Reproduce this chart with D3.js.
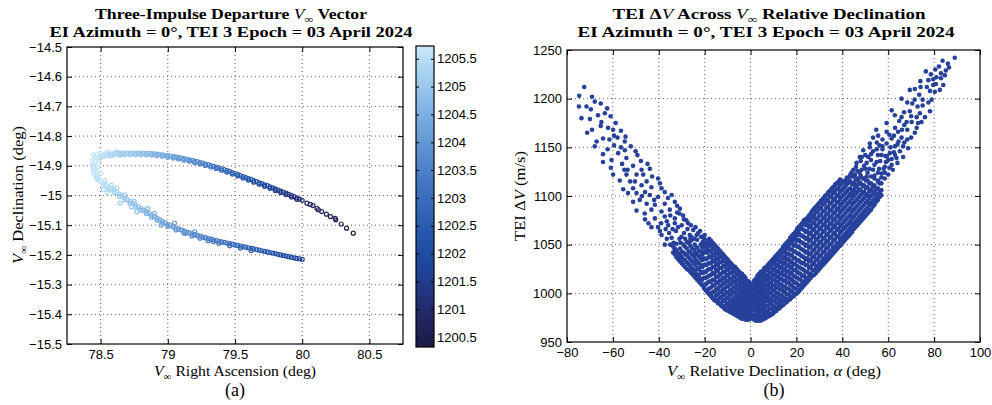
<!DOCTYPE html>
<html><head><meta charset="utf-8">
<script src="https://cdn.jsdelivr.net/npm/d3@7"></script>
<style>
body{margin:0;background:#fff}
text{fill:#000}
.tk{font-family:"Liberation Sans",Arial,sans-serif;font-size:13px}
.sf{font-family:"Liberation Serif","Times New Roman",serif}
</style></head><body>
<svg id="c" width="992" height="405" xmlns="http://www.w3.org/2000/svg"></svg>
<script>
// ---------------- Panel (a) data: [RA deg, Dec deg, dV m/s] ----------------
const raTicks = [78.5, 79, 79.5, 80, 80.5];
const decTicks = [-15.5, -15.4, -15.3, -15.2, -15.1, -15, -14.9, -14.8, -14.7, -14.6, -14.5];
const cbTicks = [1200.5, 1201, 1201.5, 1202, 1202.5, 1203, 1203.5, 1204, 1204.5, 1205, 1205.5];
const cbStopVals = [1200.32, 1200.8, 1201.3, 1201.8, 1202.3, 1202.8, 1203.3, 1203.8, 1204.3, 1204.8, 1205.3, 1205.73];
const cbStopCols = ["#1b1a46", "#22265e", "#24347f", "#1e479d", "#2356aa", "#3366b6", "#4478c2", "#5a8ecf", "#71a5dc", "#8dbde8", "#aad5f2", "#c8e9f9"];

const upperBranch = [
[78.46,-14.884,1205.6],[78.48,-14.874,1205.6],[78.50,-14.868,1205.5],[78.52,-14.865,1205.5],[78.54,-14.863,1205.4],
[78.56,-14.861,1205.4],[78.58,-14.860,1205.3],[78.60,-14.859,1205.3],[78.62,-14.858,1205.3],[78.64,-14.858,1205.2],
[78.66,-14.857,1205.2],[78.68,-14.857,1205.1],[78.70,-14.857,1205.1],[78.72,-14.857,1205.1],[78.74,-14.857,1205.0],
[78.76,-14.857,1205.0],[78.78,-14.857,1204.9],[78.80,-14.857,1204.9],[78.82,-14.858,1204.8],[78.84,-14.858,1204.8],
[78.86,-14.859,1204.7],[78.88,-14.859,1204.7],[78.90,-14.860,1204.6],[78.92,-14.861,1204.5],[78.94,-14.862,1204.5],
[78.96,-14.863,1204.4],[78.98,-14.865,1204.4],[79.00,-14.866,1204.3],[79.02,-14.867,1204.2],[79.04,-14.869,1204.2],
[79.06,-14.870,1204.1],[79.08,-14.872,1204.1],[79.10,-14.874,1204.0],[79.12,-14.876,1203.9],[79.14,-14.878,1203.9],
[79.16,-14.880,1203.8],[79.18,-14.882,1203.7],[79.20,-14.884,1203.7],[79.22,-14.886,1203.6],[79.24,-14.889,1203.5],
[79.26,-14.891,1203.5],[79.28,-14.894,1203.4],[79.30,-14.896,1203.3],[79.32,-14.899,1203.3],[79.34,-14.902,1203.2],
[79.36,-14.904,1203.1],[79.38,-14.907,1203.1],[79.40,-14.910,1203.0],[79.42,-14.913,1202.9],[79.44,-14.916,1202.8],
[79.46,-14.919,1202.8],[79.48,-14.923,1202.7],[79.50,-14.926,1202.6],[79.52,-14.929,1202.6],[79.54,-14.933,1202.5],
[79.56,-14.936,1202.4],[79.58,-14.940,1202.4],[79.60,-14.943,1202.3],[79.62,-14.946,1202.2],[79.64,-14.950,1202.2],
[79.66,-14.953,1202.1],[79.68,-14.957,1202.1],[79.70,-14.960,1202.0],[79.72,-14.964,1201.9],[79.74,-14.967,1201.9],
[79.76,-14.971,1201.8],[79.78,-14.974,1201.7],[79.80,-14.978,1201.7],[79.82,-14.982,1201.6],[79.84,-14.985,1201.5],
[79.86,-14.989,1201.5],[79.88,-14.992,1201.4],[79.90,-14.996,1201.4],[79.92,-15.000,1201.3],[79.94,-15.004,1201.2],
[79.96,-15.008,1201.2],[79.98,-15.012,1201.1],[80.00,-15.016,1201.1]
];
const upperInner = [
[78.52,-14.870,1205.5],[78.56,-14.866,1205.4],[78.60,-14.864,1205.3],[78.64,-14.863,1205.2],[78.68,-14.862,1205.1],
[78.72,-14.862,1205.0],[78.76,-14.862,1204.9],[78.80,-14.862,1204.8],[78.84,-14.863,1204.7],[78.88,-14.864,1204.6],
[78.92,-14.866,1204.5],[78.96,-14.868,1204.4],[79.00,-14.871,1204.2],[79.04,-14.874,1204.1],[79.08,-14.877,1204.0],
[79.12,-14.881,1203.9],[79.16,-14.885,1203.7],[79.20,-14.889,1203.6],[79.24,-14.894,1203.5],[79.28,-14.899,1203.3],
[79.32,-14.904,1203.2],[79.36,-14.909,1203.0],[79.40,-14.915,1202.9],[79.44,-14.921,1202.8],[79.48,-14.928,1202.6],
[79.52,-14.934,1202.5],[79.56,-14.941,1202.3],[79.60,-14.948,1202.2],[79.64,-14.955,1202.1],[79.68,-14.962,1202.0],
[79.72,-14.969,1201.8],[79.76,-14.976,1201.7],[79.80,-14.983,1201.6],[79.84,-14.990,1201.4],[79.88,-14.997,1201.3],
[79.92,-15.005,1201.2],[79.96,-15.013,1201.1]
];
const upperTail = [
[80.035,-15.026,1200.9],[80.06,-15.030,1200.9],[80.08,-15.034,1200.8],[80.11,-15.043,1200.8],[80.12,-15.048,1200.8],
[80.145,-15.054,1200.7],[80.18,-15.063,1200.7],[80.21,-15.071,1200.6],[80.245,-15.077,1200.6],[80.25,-15.082,1200.6],
[80.29,-15.096,1200.5],[80.33,-15.110,1200.5],[80.38,-15.127,1200.4]
];
const lowerBranch = [
[78.44,-14.900,1205.7],[78.445,-14.912,1205.6],[78.45,-14.922,1205.6],[78.46,-14.932,1205.6],[78.47,-14.940,1205.5],
[78.48,-14.946,1205.5],[78.50,-14.953,1205.5],[78.52,-14.960,1205.4],[78.54,-14.966,1205.4],[78.56,-14.972,1205.3],
[78.58,-14.977,1205.3],[78.60,-14.982,1205.2],[78.62,-14.989,1205.2],[78.64,-14.995,1205.1],[78.66,-15.001,1205.1],
[78.68,-15.008,1205.0],[78.70,-15.014,1205.0],[78.72,-15.020,1204.9],[78.74,-15.026,1204.9],[78.76,-15.032,1204.8],
[78.78,-15.037,1204.8],[78.80,-15.043,1204.7],[78.82,-15.049,1204.6],[78.84,-15.054,1204.6],[78.86,-15.060,1204.5],
[78.88,-15.066,1204.5],[78.90,-15.071,1204.4],[78.92,-15.076,1204.4],[78.94,-15.082,1204.3],[78.96,-15.087,1204.3],
[78.98,-15.092,1204.2],[79.00,-15.097,1204.1],[79.02,-15.101,1204.1],[79.04,-15.105,1204.0],[79.06,-15.109,1204.0],
[79.08,-15.113,1203.9],[79.10,-15.116,1203.9],[79.12,-15.119,1203.8],[79.14,-15.123,1203.8],[79.16,-15.126,1203.7],
[79.18,-15.129,1203.7],[79.20,-15.132,1203.6],[79.22,-15.135,1203.6],[79.24,-15.137,1203.5],[79.26,-15.140,1203.5],
[79.28,-15.142,1203.4],[79.30,-15.145,1203.4],[79.32,-15.147,1203.3],[79.34,-15.149,1203.3],[79.36,-15.152,1203.2],
[79.38,-15.154,1203.2],[79.40,-15.156,1203.1],[79.42,-15.158,1203.1],[79.44,-15.160,1203.0],[79.46,-15.162,1203.0],
[79.48,-15.164,1202.9],[79.50,-15.166,1202.9],[79.52,-15.168,1202.8],[79.54,-15.170,1202.8],[79.56,-15.172,1202.7],
[79.58,-15.174,1202.7],[79.60,-15.176,1202.6],[79.62,-15.178,1202.6],[79.64,-15.180,1202.5],[79.66,-15.182,1202.5],
[79.68,-15.184,1202.4],[79.70,-15.186,1202.4],[79.72,-15.188,1202.3],[79.74,-15.190,1202.3],[79.76,-15.192,1202.2],
[79.78,-15.194,1202.2],[79.80,-15.196,1202.1],[79.82,-15.198,1202.1],[79.84,-15.200,1202.0],[79.86,-15.202,1202.0],
[79.88,-15.204,1201.9],[79.90,-15.206,1201.9],[79.92,-15.208,1201.8],[79.94,-15.210,1201.8],[79.96,-15.212,1201.7],
[79.98,-15.213,1201.7],[80.00,-15.215,1201.6]
];
const lowerOuter = [
[78.52,-14.968,1205.5],[78.56,-14.980,1205.4],[78.60,-14.990,1205.3],[78.64,-15.003,1205.2],[78.68,-15.015,1205.1],
[78.72,-15.027,1205.0],[78.76,-15.039,1204.9],[78.80,-15.050,1204.8],[78.84,-15.061,1204.7],[78.88,-15.073,1204.6],
[78.92,-15.083,1204.5],[78.96,-15.094,1204.4],[79.00,-15.104,1204.2],[79.06,-15.116,1204.1],[79.12,-15.126,1203.9],
[79.18,-15.136,1203.8],[79.24,-15.144,1203.6],[79.30,-15.152,1203.5],[79.38,-15.161,1203.3],[79.46,-15.169,1203.1],
[79.54,-15.177,1202.9],[79.62,-15.185,1202.7]
];
const tipScatter = [
[78.446,-14.864,1205.6],[78.47,-14.862,1205.6],[78.50,-14.858,1205.5],[78.434,-14.897,1205.7],[78.44,-14.880,1205.7],
[78.45,-14.905,1205.7],[78.47,-14.925,1205.6],[78.48,-14.940,1205.6],[78.46,-14.915,1205.7],[78.52,-14.980,1205.5],
[78.55,-14.990,1205.4],[78.645,-15.026,1205.2],[78.73,-15.038,1205.0],[78.77,-15.055,1204.9],[78.95,-15.100,1204.4],
[79.13,-15.128,1204.0],[79.34,-15.155,1203.4],[78.49,-14.880,1205.6],[78.46,-14.900,1205.7],[78.48,-14.905,1205.6],
[78.50,-14.925,1205.6],[78.53,-14.950,1205.5],[78.58,-14.965,1205.4],[78.62,-14.975,1205.3],[78.68,-14.998,1205.1],
[78.75,-15.020,1205.0],[78.85,-15.044,1204.7],[78.90,-15.060,1204.6],[79.05,-15.093,1204.2],[79.20,-15.122,1203.8],
[78.55,-14.855,1205.4],[78.62,-14.853,1205.3],[78.58,-14.866,1205.4],[78.65,-14.864,1205.2]
];

// ---------------- Panel (b) data: [alpha deg, TEI dV m/s] ----------------
const alphaTicks = [-80, -60, -40, -20, 0, 20, 40, 60, 80, 100];
const dvTicks = [950, 1000, 1050, 1100, 1150, 1200, 1250];
const leftArmSparse = [
[-72.5,1212],[-74.7,1203],[-69.1,1202],[-67.9,1197],[-65.3,1195],[-74.8,1192],[-69.6,1189],[-73.7,1180],[-70.0,1179],
[-63.5,1185],[-61.0,1182],[-65.0,1176],[-65.3,1172],[-58.8,1175],[-62.1,1170],[-59.9,1168],[-69.1,1168],[-71.2,1165],
[-56.5,1167],[-64.3,1159],[-59.5,1162],[-58.0,1160],[-54.5,1161],[-67.1,1156],[-67.9,1151],[-62.3,1148],[-59.5,1152],
[-54.8,1156],[-52.2,1151],[-64.3,1143],[-57.7,1144],[-54.8,1147],[-50.1,1146],[-49.3,1142],[-54.1,1139],[-64.3,1135],
[-60.6,1137],[-56.0,1133],[-51.2,1131],[-47.8,1136],[-44.9,1133],[-60.9,1129],[-53.6,1127],[-47.5,1127],[-43.9,1128],
[-59.9,1122],[-54.1,1122],[-49.7,1122],[-46.8,1122],[-42.9,1120],[-40.3,1118],[-57.0,1116],[-50.4,1115],[-45.3,1115],
[-39.5,1113],[-55.5,1107],[-51.2,1108],[-47.5,1111],[-43.2,1109],[-38.8,1108],[-37.4,1104],[-53.4,1103],[-49.7,1103],
[-47.3,1100],[-43.9,1101],[-40.3,1099],[-34.4,1101],[-51.2,1094],[-48.3,1096],[-45.3,1092],[-41.7,1091],[-37.4,1092],
[-33.0,1094],[-49.7,1085],[-46.1,1082],[-43.2,1086],[-38.8,1084],[-35.2,1086],[-30.8,1087],[-41.7,1077],[-37.4,1079],
[-33.0,1077],[-29.4,1080],[-43.2,1068],[-40.3,1068],[-35.9,1070],[-31.6,1068],[-27.2,1072],[-25.0,1065],[-38.8,1060],
[-34.4,1057],[-30.1,1058],[-26.5,1060],[-22.8,1062],[-37.4,1050],[-33.0,1046],[-28.6,1048],[-24.3,1050],[-20.7,1053],
[-19.2,1046],[-46.0,1076],[-44.5,1072],[-36.5,1074],[-32.0,1083],[-28.0,1075],[-24.0,1068],[-21.5,1058],[-26.0,1054],
[-30.5,1052],[-35.5,1062],[-39.5,1064],[-42.0,1096],[-36.0,1098],[-32.0,1090],[-55.0,1127],[-46.0,1104],[-52.5,1115],
[-61.5,1158],[-56.5,1150],[-66.5,1183],[-71.5,1192],[-62.5,1190]
];
const leftArmMid = [
[-33.5,1052],[-31,1056],[-29,1062],[-27.5,1066],[-25.8,1058],[-23.5,1060],[-22,1064],[-20,1060],[-18.5,1055],
[-32.5,1064],[-30,1070],[-28.5,1056],[-35,1050],[-36.5,1056],[-34,1066],[-27,1052],[-24.5,1056],[-21,1058],[-19.5,1052],
[-37,1066],[-33,1072],[-29,1076],[-26,1070],[-39,1072],[-35,1080],[-31,1082]
];
const rightArmSparse = [
[89.0,1242],[83.7,1239],[82.1,1233],[85.1,1229],[76.4,1228],[78.6,1225],[84.7,1224],[79.6,1220],[79.6,1214],[84.0,1214],
[74.1,1212],[69.4,1209],[71.6,1210],[78.2,1208],[80.3,1207],[82.5,1209],[65.8,1200],[73.5,1204],[78.9,1199],[68.3,1196],
[75.0,1199],[75.0,1193],[61.5,1188],[69.4,1187],[78.2,1187],[62.9,1183],[73.8,1185],[65.8,1181],[72.4,1181],[76.0,1181],
[59.3,1175],[64.8,1177],[70.2,1176],[74.5,1176],[72.4,1170],[54.8,1168],[59.3,1166],[64.3,1166],[68.3,1168],[71.6,1165],
[53.4,1160],[55.6,1162],[61.5,1159],[65.8,1160],[68.3,1158],[52.0,1154],[56.2,1152],[59.3,1154],[62.9,1151],[66.5,1151],
[68.7,1149],[49.1,1147],[53.4,1146],[57.1,1142],[60.7,1144],[65.1,1146],[47.6,1140],[51.3,1140],[60.0,1137],[63.6,1139],
[46.2,1134],[50.6,1134],[54.9,1135],[58.5,1130],[61.5,1132],[44.8,1127],[48.4,1127],[53.4,1127],[57.1,1123],[60.0,1122],
[43.3,1120],[46.9,1118],[50.6,1120],[55.6,1116],[41.8,1113],[45.5,1111],[49.1,1110],[53.4,1110],[56.2,1113],
[63.0,1170],[57.5,1158],[67.0,1173],[70.5,1195],[76.8,1212],[81.0,1222],[86.0,1236],[72.8,1192],[66.9,1186],[60.5,1163],
[55.0,1148],[51.8,1128],[47.5,1124],[58.8,1141],[62.5,1145],[70.0,1160],[73.0,1175],[77.5,1196],[80.8,1215],[83.0,1226],
[42.5,1118],[44.0,1124],[46.0,1130],[48.0,1136],[50.0,1142],[52.0,1150],[45.5,1122],[49.5,1131],[52.5,1137],[55.5,1142],
[57.5,1148],[56.0,1128],[59.0,1135],[54.0,1121],[51.0,1116],[47.5,1113],[58.5,1118],[62.0,1127],[64.0,1134],[66.5,1140],
[62.5,1162],[64.0,1153],[66.0,1168],[70.0,1182],[68.0,1176],[71.5,1199],[74.0,1218],[77.5,1219],[80.5,1230],[83.0,1221],
[86.5,1232]
];
const rightArmMid = [
[40.5,1115],[42,1112],[42,1119],[43.5,1115],[43.5,1122],[45,1113],[45,1120],[46.5,1111],[46.5,1118],[46.5,1126],
[48,1113],[48,1121],[49.5,1111],[49.5,1118],[51,1109],[51,1124],[52.5,1113],[52.5,1120],[54,1111],[54,1118],
[55.5,1115],[55.5,1124],[57,1113],[57,1119],[58.5,1124],[58,1128],[60.5,1129],[59.5,1141],[61.5,1138],[63,1142],
[56.5,1136],[54,1132],[50,1128],[48.5,1140],[52.5,1143],[55,1155],[57.5,1151],[61,1150],[64.5,1156],[67,1155]
];
const rightArmEdge = [
[1.0,1008],[2.5,1012],[4,1017],[5.5,1021],[7,1025],[8.5,1030],[10,1034],[11.5,1038],[13,1043],[14.5,1047],[16,1052],
[17.5,1056],[19,1061],[20.5,1065],[22,1070],[23.5,1074],[25,1078],[26.5,1083],[28,1087],[29.5,1091],[31,1095],[32.5,1100],
[34,1104],[35.5,1108],[37,1112],[38.5,1115]
];
// dense columns: [alpha, [dV values...]]
const denseCols = [
[-33,[1040,1045]],[-31.5,[1035,1041]],[-30,[1031,1037,1043]],[-28.5,[1027,1034,1040]],[-27,[1024,1030,1037,1043]],
[-25.5,[1020,1026,1033,1040,1046]],[-24,[1016,1022,1029,1035,1042]],[-22.5,[1012,1018,1025,1031,1038,1044]],
[-21,[1008,1014,1021,1027,1034,1040,1047,1052]],[-19.5,[1003,1009,1016,1022,1029,1035,1042]],
[-18,[999,1005,1012,1018,1025,1031,1038,1044,1050,1056]],[-16.5,[995,1001,1008,1014,1021,1027,1034,1040,1046,1052]],
[-15,[992,998,1004,1011,1017,1024,1030,1036,1042,1048]],[-13.5,[989,995,1001,1007,1013,1019,1026,1032,1038,1044]],
[-12,[986,992,998,1004,1010,1016,1022,1028,1034,1040]],[-10.5,[983,989,995,1001,1007,1013,1019,1025,1031,1036]],
[-9,[981,986,992,998,1003,1009,1015,1021,1027,1032]],[-7.5,[979,984,990,995,1001,1006,1012,1017,1023,1028]],
[-6,[977,982,988,993,998,1004,1009,1014,1020,1025]],[-4.5,[975,980,985,991,996,1001,1006,1011,1016,1021]],
[-3,[974,979,984,989,994,999,1004,1009,1014,1018]],[-1.5,[973,978,983,988,993,998,1003,1008,1013]],
[0,[975,980,985,990,995,1000,1005,1010]],[1.5,[973,978,984,989,994,999,1004,1009,1013]],
[3,[972,977,982,987,993,998,1003,1008,1013,1018]],[4.5,[972,977,983,988,993,999,1004,1009,1014,1018,1022]],
[6,[974,979,984,990,995,1000,1005,1011,1016,1021,1026]],[7.5,[976,981,987,992,997,1003,1008,1013,1018,1024,1029]],
[9,[978,984,989,994,1000,1005,1011,1016,1021,1027,1033]],[10.5,[981,986,992,997,1003,1008,1014,1019,1025,1031,1037]],
[12,[984,989,995,1000,1006,1012,1017,1023,1029,1035,1041]],[13.5,[987,992,998,1004,1009,1015,1021,1027,1033,1039,1045]],
[15,[990,995,1001,1007,1013,1019,1025,1031,1037,1043,1050]],[16.5,[993,999,1005,1011,1017,1023,1029,1035,1041,1048,1054]],
[18,[996,1002,1008,1014,1020,1026,1032,1039,1045,1052,1059]],[19.5,[999,1005,1011,1017,1024,1030,1036,1043,1050,1057,1063]],
[21,[1002,1008,1015,1021,1027,1034,1041,1048,1055,1062,1068]],[22.5,[1006,1012,1018,1025,1031,1038,1045,1052,1059,1066,1072]],
[24,[1010,1016,1022,1029,1035,1042,1049,1056,1063,1070,1076]],[25.5,[1014,1020,1026,1033,1040,1047,1054,1061,1068,1074,1080]],
[27,[1018,1024,1030,1037,1044,1051,1058,1065,1072,1078,1085]],[28.5,[1021,1027,1034,1041,1048,1055,1062,1069,1076,1083,1089]],
[30,[1025,1031,1038,1045,1052,1059,1066,1073,1080,1087,1093]],[31.5,[1029,1035,1042,1049,1056,1063,1070,1077,1084,1091,1097]],
[33,[1033,1039,1046,1053,1060,1067,1074,1081,1088,1095,1101]],[34.5,[1037,1043,1050,1057,1064,1071,1078,1085,1092,1099,1105]],
[36,[1041,1047,1054,1061,1068,1075,1082,1089,1096,1103,1109]],[37.5,[1045,1051,1058,1065,1072,1079,1086,1093,1100,1107,1113]],
[39,[1049,1055,1062,1069,1076,1083,1090,1097,1104,1111,1117]],[40.5,[1053,1059,1066,1073,1080,1087,1094,1101,1108]],
[42,[1057,1063,1070,1077,1084,1091,1098,1105]],[43.5,[1061,1067,1074,1081,1088,1095,1102,1108]],
[45,[1066,1072,1079,1086,1093,1100,1106]],[46.5,[1070,1076,1083,1090,1097,1104]],[48,[1074,1080,1087,1094,1101,1106]],
[49.5,[1078,1084,1091,1098,1104]],[51,[1082,1088,1095,1102]],[52.5,[1086,1093,1100,1106]],[54,[1091,1097,1104]],
[55.5,[1096,1102,1108]],[57,[1101,1106]]
];
const denseColsOffset = [
[-33.75,[1042,1048]],[-32.25,[1037,1044,1051]],[-30.75,[1033,1039,1046]],[-29.25,[1029,1035,1042,1050]],
[-27.75,[1025,1032,1039,1046,1053]],[-26.25,[1022,1028,1035,1042,1049,1056]],[-24.75,[1018,1024,1031,1038,1045]],
[-23.25,[1014,1019,1026,1033,1040,1047,1055]],[-21.75,[1010,1015,1022,1029,1036,1043,1050]],
[-20.25,[1005,1009,1016,1022,1029,1036,1043,1049,1056]],[-18.75,[1001,1004,1011,1017,1024,1030,1036,1042,1048,1053]],
[-17.25,[997,1000,1006,1012,1019,1025,1031,1037,1043,1049,1054]],[-15.75,[993,996,1002,1008,1014,1020,1027,1033,1039,1045,1050]],
[-14.25,[990,993,999,1005,1011,1017,1023,1029,1035,1041,1046]],[-12.75,[987,990,996,1002,1008,1014,1020,1026,1032,1037,1042]],
[-11.25,[984,987,993,999,1005,1011,1016,1022,1028,1033,1038]],[-9.75,[982,985,990,996,1001,1007,1012,1018,1024,1029,1034]],
[-8.25,[980,983,988,993,999,1004,1010,1015,1021,1026,1030]],[-6.75,[978,981,986,991,996,1001,1007,1012,1017,1022,1027]],
[-5.25,[976,979,984,989,994,999,1004,1009,1014,1019,1023]],[-3.75,[974,977,982,987,992,997,1002,1007,1012,1017,1020]],
[-2.25,[973,976,981,986,991,996,1001,1006,1011,1016]],[-0.75,[973,977,982,987,992,997,1002,1007,1012]],
[0.75,[974,978,983,988,993,998,1003,1008]],[2.25,[972,976,981,986,991,996,1001,1006,1011,1015]],
[3.75,[972,975,980,985,990,996,1001,1006,1011,1016,1020]],[5.25,[973,976,981,986,991,996,1002,1007,1012,1017,1023]],
[6.75,[975,977,982,987,993,998,1003,1008,1014,1019,1024,1027]],[8.25,[977,979,984,990,995,1000,1006,1011,1016,1021,1026,1031]],
[9.75,[979,982,987,992,997,1003,1008,1014,1019,1024,1030,1035]],[11.25,[982,985,990,995,1000,1006,1011,1017,1022,1028,1034,1039]],
[12.75,[985,988,993,998,1004,1009,1015,1020,1026,1032,1038,1043]],[14.25,[988,991,996,1002,1007,1013,1019,1024,1030,1036,1042,1048]],
[15.75,[991,994,999,1005,1011,1016,1022,1028,1034,1040,1046,1052]],[17.25,[994,997,1003,1009,1015,1021,1027,1033,1039,1045,1051,1057]],
[18.75,[997,1000,1006,1012,1018,1024,1030,1036,1043,1049,1055,1061]],[20.25,[1000,1004,1010,1016,1022,1028,1034,1041,1048,1054,1060,1066]],
[21.75,[1004,1008,1014,1020,1026,1032,1039,1046,1053,1060,1066,1070]],[23.25,[1008,1012,1018,1024,1031,1037,1044,1051,1058,1065,1071,1075]],
[24.75,[1012,1016,1022,1029,1036,1043,1050,1057,1064,1071,1077]],[26.25,[1016,1020,1027,1034,1041,1048,1055,1062,1069,1076,1082]],
[27.75,[1019,1024,1031,1038,1045,1052,1059,1066,1073,1080,1087]],[29.25,[1023,1028,1035,1042,1049,1056,1063,1070,1077,1084,1091]],
[30.75,[1027,1032,1039,1046,1053,1060,1067,1074,1081,1088,1095]],[32.25,[1031,1036,1043,1050,1057,1064,1071,1078,1085,1092,1099]],
[33.75,[1035,1040,1047,1054,1061,1068,1075,1082,1089,1096,1103]],[35.25,[1039,1044,1051,1058,1065,1072,1079,1086,1093,1100,1107]],
[36.75,[1043,1048,1055,1062,1069,1076,1083,1090,1097,1104,1111]],[38.25,[1047,1052,1059,1066,1073,1080,1087,1094,1101,1108,1114]],
[39.75,[1051,1057,1064,1071,1078,1085,1092,1099,1106,1113]],[41.25,[1055,1061,1068,1075,1082,1089,1096,1103,1110,1116]],
[42.75,[1059,1065,1072,1079,1086,1093,1100,1107,1114]],[44.25,[1063,1070,1077,1084,1091,1098,1104,1112,1120]],
[45.75,[1068,1074,1081,1088,1095,1102,1109,1116]],[47.25,[1072,1078,1085,1092,1099,1107,1114]],
[48.75,[1076,1082,1089,1096,1103,1111,1118]],[50.25,[1080,1086,1093,1100,1108,1116]],[51.75,[1084,1091,1098,1105,1113]],
[53.25,[1089,1095,1102,1109]],[54.75,[1094,1100,1107]],[56.25,[1099,1104]]
];

// ---------------- drawing ----------------
const svg = d3.select('#c');
const A = {x0:67, x1:403, y0:47, y1:344};
const B = {x0:567, x1:980, y0:50, y1:342};
const CB = {x0:416, x1:434, y0:46, y1:347};

const xA = d3.scaleLinear([78.25, 80.75], [A.x0, A.x1]);
const yA = d3.scaleLinear([-15.5, -14.5], [A.y1, A.y0]);
const xB = d3.scaleLinear([-80, 100], [B.x0, B.x1]);
const yB = d3.scaleLinear([950, 1250], [B.y1, B.y0]);
const cmap = d3.scaleLinear().domain(cbStopVals).range(cbStopCols).interpolate(d3.interpolateRgb).clamp(true);

const minus = v => String(v).replace('-', '\u2212');

const defs = svg.append('defs');
defs.append('clipPath').attr('id','clipA').append('rect').attr('x',A.x0).attr('y',A.y0).attr('width',A.x1-A.x0).attr('height',A.y1-A.y0);
defs.append('clipPath').attr('id','clipB').append('rect').attr('x',B.x0).attr('y',B.y0).attr('width',B.x1-B.x0).attr('height',B.y1-B.y0);

function grid(P, x, y, xt, yt) {
  const g = svg.append('g').attr('stroke','#555').attr('stroke-width',0.9).attr('stroke-dasharray','1,3');
  xt.forEach(v => { const px = x(v); if (px > P.x0+1 && px < P.x1-1) g.append('line').attr('x1',px).attr('x2',px).attr('y1',P.y0).attr('y2',P.y1); });
  yt.forEach(v => { const py = y(v); if (py > P.y0+1 && py < P.y1-1) g.append('line').attr('y1',py).attr('y2',py).attr('x1',P.x0).attr('x2',P.x1); });
}
function axes(P, x, y, xt, yt, xf, yf) {
  const style = g => { g.select('.domain').remove(); g.selectAll('line').attr('stroke','#000'); g.selectAll('text').attr('class','tk').attr('fill','#000'); };
  svg.append('g').attr('transform',`translate(0,${P.y1})`).call(d3.axisBottom(x).tickValues(xt).tickFormat(xf).tickSizeInner(-5).tickSizeOuter(0).tickPadding(6)).call(style).attr('font-family',null).attr('font-size',null);
  svg.append('g').attr('transform',`translate(0,${P.y0})`).call(d3.axisTop(x).tickValues(xt).tickFormat('').tickSizeInner(-5).tickSizeOuter(0)).call(style);
  svg.append('g').attr('transform',`translate(${P.x0},0)`).call(d3.axisLeft(y).tickValues(yt).tickFormat(yf).tickSizeInner(-5).tickSizeOuter(0).tickPadding(5)).call(style).attr('font-family',null).attr('font-size',null);
  svg.append('g').attr('transform',`translate(${P.x1},0)`).call(d3.axisRight(y).tickValues(yt).tickFormat('').tickSizeInner(-5).tickSizeOuter(0)).call(style);
  svg.append('rect').attr('x',P.x0).attr('y',P.y0).attr('width',P.x1-P.x0).attr('height',P.y1-P.y0).attr('fill','none').attr('stroke','#000').attr('stroke-width',1.2);
}

// ---- panel a ----
grid(A, xA, yA, raTicks, decTicks);
const ptsA = [].concat(lowerOuter, lowerBranch, tipScatter, upperInner, upperBranch, upperTail);
svg.append('g').attr('clip-path','url(#clipA)').selectAll('circle').data(ptsA).join('circle')
  .attr('cx', d => xA(d[0])).attr('cy', d => yA(d[1])).attr('r', 2.0)
  .attr('fill','none').attr('stroke', d => cmap(d[2])).attr('stroke-width', 1.2);
axes(A, xA, yA, raTicks, decTicks, d => minus(d), d => minus(d));

// colorbar
const yC = d3.scaleLinear([1200.32, 1205.73], [CB.y1, CB.y0]);
const grad = defs.append('linearGradient').attr('id','cbg').attr('x1',0).attr('x2',0).attr('y1',1).attr('y2',0);
cbStopVals.forEach((v,i) => grad.append('stop').attr('offset', (v-1200.32)/(1205.73-1200.32)).attr('stop-color', cbStopCols[i]));
svg.append('rect').attr('x',CB.x0).attr('y',CB.y0).attr('width',CB.x1-CB.x0).attr('height',CB.y1-CB.y0).attr('fill','url(#cbg)');
const cbStyle = g => { g.select('.domain').remove(); g.selectAll('line').attr('stroke','#000'); g.selectAll('text').attr('class','tk'); };
svg.append('g').attr('transform',`translate(${CB.x1},0)`).call(d3.axisRight(yC).tickValues(cbTicks).tickFormat(d => String(d)).tickSizeInner(-3).tickSizeOuter(0).tickPadding(3)).call(cbStyle).attr('font-family',null).attr('font-size',null);
svg.append('g').attr('transform',`translate(${CB.x0},0)`).call(d3.axisLeft(yC).tickValues(cbTicks).tickFormat('').tickSizeInner(-3).tickSizeOuter(0)).call(cbStyle);
svg.append('rect').attr('x',CB.x0).attr('y',CB.y0).attr('width',CB.x1-CB.x0).attr('height',CB.y1-CB.y0).attr('fill','none').attr('stroke','#000').attr('stroke-width',1.2);

// ---- panel b ----
grid(B, xB, yB, alphaTicks, dvTicks);
const ptsB = [].concat(leftArmSparse, leftArmMid, rightArmSparse, rightArmMid, rightArmEdge);
denseCols.concat(denseColsOffset).forEach(c => c[1].forEach(v => ptsB.push([c[0], v])));
svg.append('g').attr('clip-path','url(#clipB)').selectAll('circle').data(ptsB).join('circle')
  .attr('cx', d => xB(d[0])).attr('cy', d => yB(d[1])).attr('r', 2.3).attr('fill', '#26409b');
axes(B, xB, yB, alphaTicks, dvTicks, d => minus(d), d => String(d));

// ---- text ----
function label(cx, y, parts, size, len) {
  const t = svg.append('text').attr('class','sf').attr('x',cx).attr('y',y).attr('text-anchor','middle').attr('font-size',size);
  parts.forEach(p => {
    const s = t.append('tspan').text(p.t);
    if (p.b) s.attr('font-weight','bold');
    if (p.i) s.attr('font-style','italic');
    if (p.sub) s.attr('font-size', size*0.7).attr('dy', size*0.25);
    if (p.up) s.attr('dy', -size*0.25);
  });
  if (len) t.attr('textLength', len).attr('lengthAdjust','spacingAndGlyphs');
  return t;
}
const TS = 15;
const line2 = [{t:'EI Azimuth = 0\u00B0, TEI 3 Epoch = 03 April 2024',b:1}];
label(231, 19, [{t:'Three-Impulse Departure ',b:1},{t:'V',i:1},{t:'\u221E',sub:1},{t:' Vector',b:1,up:1}], TS, 272);
label(231, 37, line2, TS, 363);
label(769, 19, [{t:'TEI \u0394',b:1},{t:'V',i:1},{t:' Across ',b:1},{t:'V',i:1},{t:'\u221E',sub:1},{t:' Relative Declination',b:1,up:1}], TS, 313);
label(766, 37, line2, TS, 377);

label(235, 376, [{t:'V',i:1},{t:'\u221E',sub:1},{t:' Right Ascension (deg)',up:1}], 14, 162);
label(774, 376, [{t:'V',i:1},{t:'\u221E',sub:1},{t:' Relative Declination, ',up:1},{t:'\u03B1',i:1},{t:' (deg)'}], 14, 214);
label(0, 0, [{t:'V',i:1},{t:'\u221E',sub:1},{t:' Declination (deg)',up:1}], 14.5, 138).attr('transform','translate(23,195) rotate(-90)');
label(0, 0, [{t:'TEI \u0394'},{t:'V',i:1},{t:' (m/s)'}], 14.5, 90).attr('transform','translate(525,196) rotate(-90)');
label(235, 396, [{t:'(a)'}], 18);
label(774, 396, [{t:'(b)'}], 18);
</script></body></html>
